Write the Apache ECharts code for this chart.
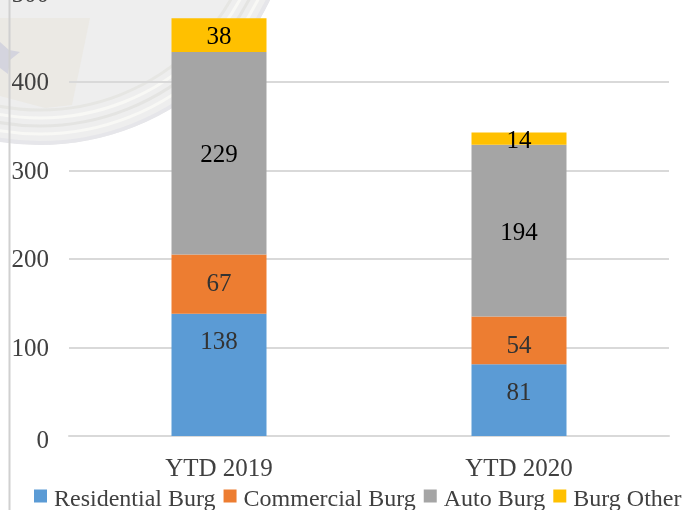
<!DOCTYPE html>
<html><head><meta charset="utf-8">
<style>html,body{margin:0;padding:0;background:#fff}#c{width:698px;height:510px}</style>
<script src="https://cdn.jsdelivr.net/npm/echarts@6/dist/echarts.min.js"></script></head>
<body><div id="c"></div>
<script>
const categories=['YTD 2019','YTD 2020'];
const residential=[138,81];
const commercial=[67,54];
const auto=[229,194];
const other=[38,14];
const font='"Liberation Serif"';
const chart=echarts.init(document.getElementById('c'));
const s=(name,data,color,lc,off)=>({name,type:'bar',stack:'a',barWidth:95,itemStyle:{color},
 data:data.map((v,i)=>({value:v,label:{offset:[0,off[i]]}})),
 label:{show:true,position:'inside',color:lc,fontFamily:font,fontSize:25}});
const ring=(r,w,c)=>({type:'circle',silent:true,z:-1,shape:{cx:40,cy:-110,r},style:{fill:'none',stroke:c,lineWidth:w}});
chart.setOption({animation:false,
 graphic:[
  {type:'circle',silent:true,z:-2,shape:{cx:40,cy:-110,r:255},style:{fill:'#eeeeee'}},
  ring(253,4,'#e6e6ea'),ring(244,3,'#f8f8f5'),ring(236,3,'#e4e4e2'),ring(228,3,'#f8f8f5'),ring(220,3,'#e6e6e3'),
  {type:'polygon',silent:true,z:-1,shape:{points:[[0,18],[90,18],[72,105],[45,108],[0,96]]},style:{fill:'#ebe9e4'}},
  {type:'polygon',silent:true,z:-1,shape:{points:[[0,42],[9,50],[20,52],[10,60],[8,74],[0,68]]},style:{fill:'#d4d4de'}},
  {type:'line',silent:true,z:0,shape:{x1:9.5,y1:0,x2:9.5,y2:510},style:{stroke:'#d0d0d0',lineWidth:2}}
 ],
 grid:{left:69,right:29,top:-6.5,bottom:74,containLabel:false,outerBoundsMode:'none'},
 legend:{top:488,left:34,padding:0,itemWidth:13,itemHeight:13,itemGap:8,icon:'rect',
  formatter:n=>'{a|'+n+'}',
  textStyle:{rich:{a:{fontFamily:font,fontSize:24,color:'#404040',padding:[8,0,0,2]}}}},
 xAxis:{type:'category',data:categories,axisTick:{show:false},axisLine:{lineStyle:{color:'#d9d9d9',width:2}},axisLabel:{fontFamily:font,fontSize:25,color:'#404040',margin:21}},
 yAxis:{type:'value',min:0,max:500,interval:100,axisLine:{show:false},axisTick:{show:false},splitLine:{lineStyle:{color:'#d9d9d9',width:2}},
  axisLabel:{fontFamily:font,fontSize:25,color:'#404040',margin:20,padding:[3,0,0,0],
   formatter:v=>v===0?'{z|0}':String(v),
   rich:{z:{fontFamily:font,fontSize:25,color:'#404040',padding:[7,0,0,0]}}}},
 series:[s('Residential Burg',residential,'#5b9bd5','#333',[-32,-7]),s('Commercial Burg',commercial,'#ed7d31','#333',[0,6]),s('Auto Burg',auto,'#a5a5a5','#000',[2,3]),s('Burg Other',other,'#ffc000','#000',[2,3])]
});
</script></body></html>
